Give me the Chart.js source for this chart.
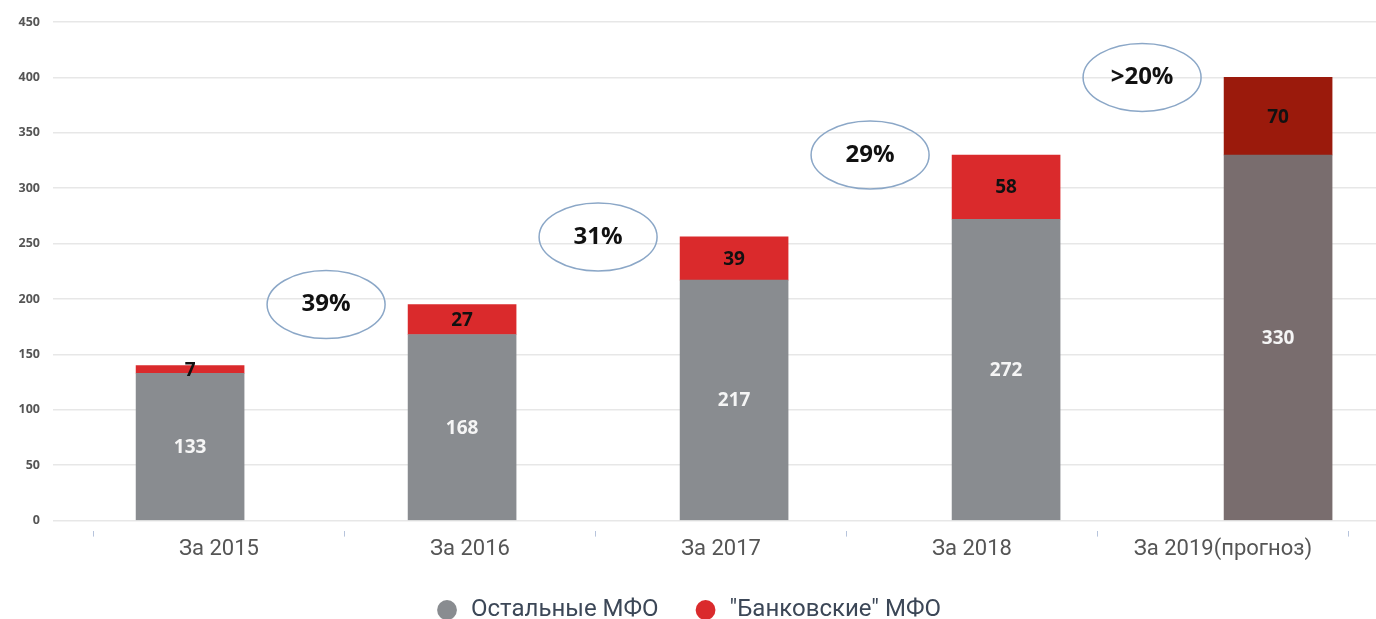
<!DOCTYPE html>
<html lang="ru">
<head>
    <meta charset="utf-8">
    <title>МФО</title>
    <script src="https://cdn.jsdelivr.net/npm/chart.js"></script>
    <style>
        html, body { margin: 0; padding: 0; background: #fff; }
        #wrap { width: 1376px; height: 619px; position: relative; }
    </style>
</head>
<body>
<div id="wrap"><canvas id="barChart"></canvas></div>
<script>
    // data
    const years = ['За 2015', 'За 2016', 'За 2017', 'За 2018', 'За 2019(прогноз)'];
    const otherMfo = [133, 168, 217, 272, 330];
    const bankMfo = [7, 27, 39, 58, 70];
    const growth = ['39%', '31%', '29%', '>20%'];
    const yTicks = [0, 50, 100, 150, 200, 250, 300, 350, 400, 450];

    const otherColors = ['#898c90', '#898c90', '#898c90', '#898c90', '#796d6e'];
    const bankColors = ['#da2a2c', '#da2a2c', '#da2a2c', '#da2a2c', '#9b1a0c'];

    // value labels inside the bars + growth ellipses between bars
    const barLabels = {
        id: 'barLabels',
        afterDatasetsDraw(chart) {
            const ctx = chart.ctx;
            ctx.save();
            ctx.textAlign = 'center';
            ctx.textBaseline = 'middle';
            ctx.font = 'bold 19px "Open Sans"';
            chart.data.datasets.forEach((ds, di) => {
                const meta = chart.getDatasetMeta(di);
                meta.data.forEach((bar, i) => {
                    ctx.fillStyle = di === 0 ? '#f5f5f5' : '#111';
                    ctx.fillText(ds.data[i].y, bar.x, (bar.y + bar.base) / 2 + 1);
                });
            });

            const xs = chart.scales.x, ys = chart.scales.y;
            growth.forEach((g, i) => {
                const cx = xs.getPixelForValue(i + 0.5);
                const cy = ys.getPixelForValue(otherMfo[i + 1] + bankMfo[i + 1]);
                ctx.beginPath();
                ctx.ellipse(cx, cy, 59, 34, 0, 0, Math.PI * 2);
                ctx.strokeStyle = '#8ba7c7';
                ctx.lineWidth = 1.5;
                ctx.stroke();
                ctx.fillStyle = '#111';
                ctx.font = 'bold 24px "Open Sans"';
                ctx.fillText(g, cx, cy);
            });
            ctx.restore();
        }
    };

    const ctx = document.getElementById('barChart').getContext('2d');
    new Chart(ctx, {
        type: 'bar',
        data: {
            datasets: [
                {
                    label: 'Остальные МФО',
                    data: otherMfo.map((v, i) => ({ x: i, y: v })),
                    backgroundColor: otherColors,
                    barThickness: 108,
                },
                {
                    label: '"Банковские" МФО',
                    data: bankMfo.map((v, i) => ({ x: i, y: v })),
                    backgroundColor: bankColors,
                    barThickness: 108,
                },
            ],
        },
        plugins: [barLabels],
        options: {
            responsive: true,
            maintainAspectRatio: false,
            animation: false,
            layout: { padding: { top: 22, right: 0, left: 0, bottom: -13 } },
            plugins: {
                tooltip: { enabled: false },
                legend: {
                    position: 'bottom',
                    labels: {
                        usePointStyle: true,
                        pointStyle: 'circle',
                        boxWidth: 24,
                        boxHeight: 14,
                        padding: 35,
                        color: '#3c4757',
                        font: { family: 'Roboto', size: 24 },
                    },
                },
            },
            scales: {
                // bars sit on this one (hidden)
                x: {
                    type: 'linear',
                    stacked: true,
                    display: false,
                    offset: false,
                    min: -0.504,
                    max: 4.36,
                },
                // year labels, tick marks between the years
                x2: {
                    type: 'linear',
                    position: 'bottom',
                    offset: false,
                    min: -0.661,
                    max: 4.61,
                    afterBuildTicks: (s) => { s.ticks = years.map((_, i) => ({ value: i })); },
                    grid: {
                        offset: true,
                        drawOnChartArea: false,
                        tickLength: 16,
                        color: '#b7c4dc',
                        tickBorderDash: [7, 40],
                        tickBorderDashOffset: -10,
                    },
                    border: { display: false },
                    ticks: {
                        callback: (v) => years[v],
                        color: '#555',
                        font: { family: 'Roboto', size: 22 },
                        padding: 0,
                        maxRotation: 0,
                        autoSkip: false,
                    },
                },
                y: {
                    stacked: true,
                    min: 0,
                    max: 450,
                    afterFit: (s) => { s.width = 53; },
                    afterBuildTicks: (s) => { s.ticks = yTicks.map((v) => ({ value: v })); },
                    grid: { color: '#e7e7e7', lineWidth: 1.5, drawTicks: false },
                    border: { display: false },
                    ticks: {
                        padding: 13,
                        color: '#555',
                        font: { family: 'Open Sans', size: 12.5, weight: 'bold' },
                    },
                },
            },
        },
    });
</script>
</body>
</html>
